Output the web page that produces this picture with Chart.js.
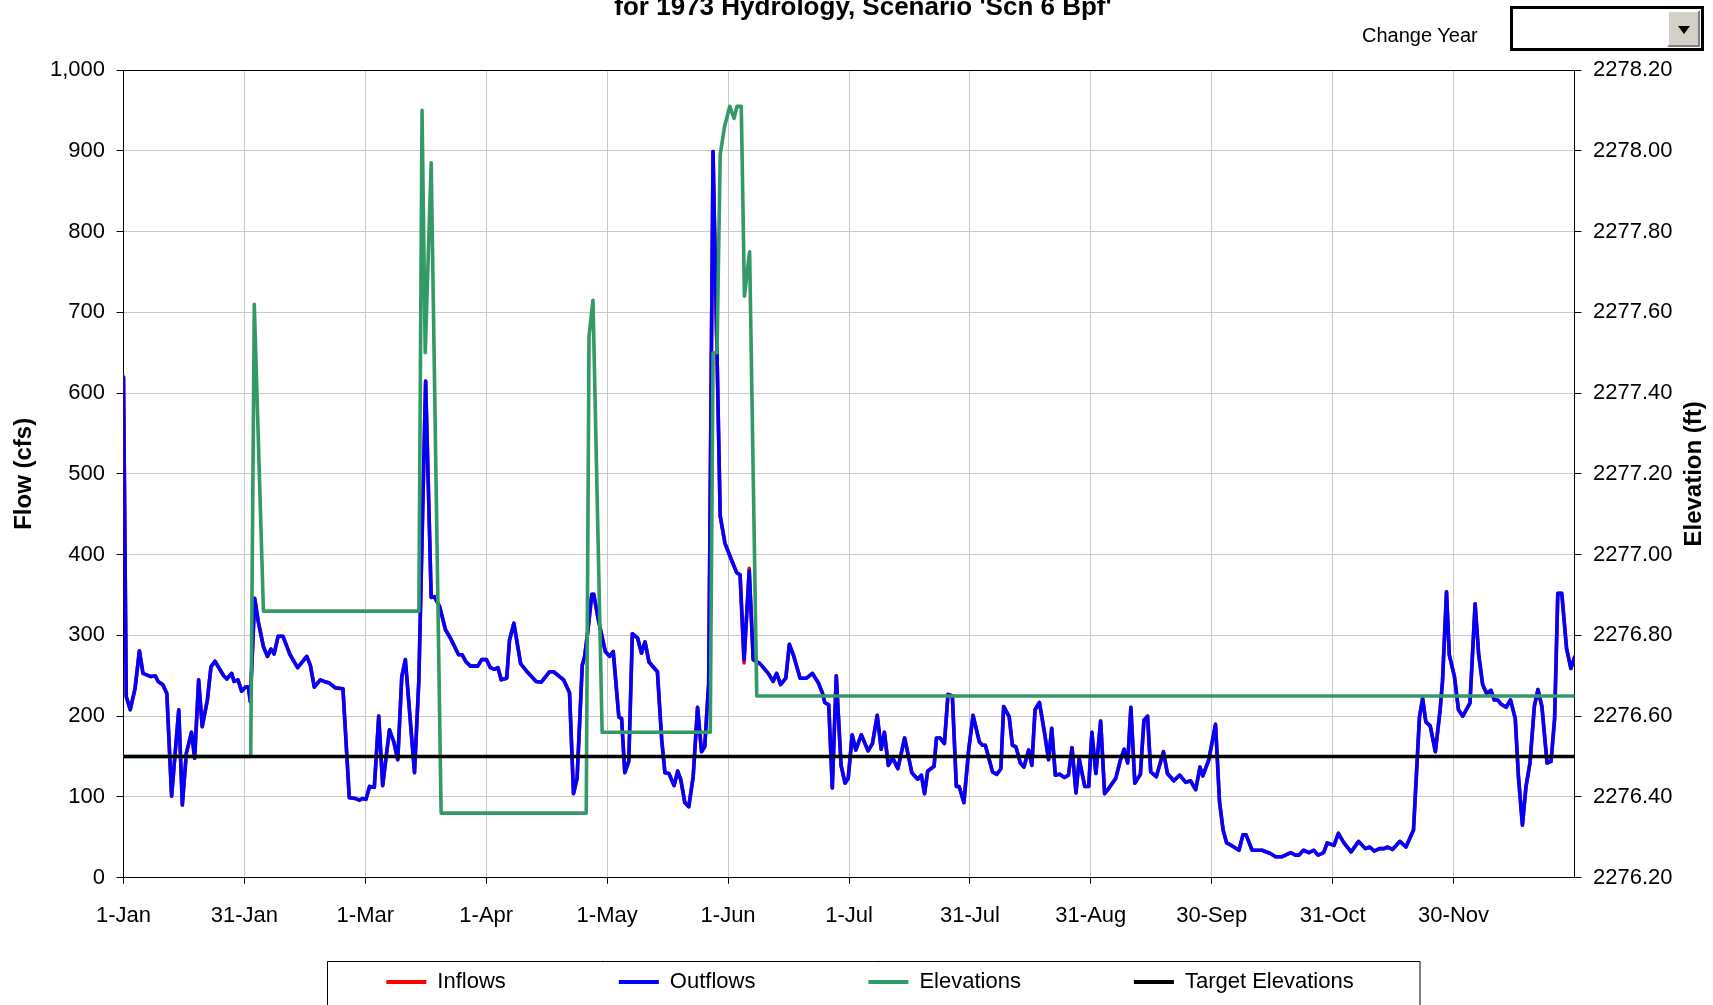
<!DOCTYPE html>
<html>
<head>
<meta charset="utf-8">
<script src="https://cdn.jsdelivr.net/npm/chart.js@4.4.0/dist/chart.umd.min.js"></script>
<style>
  html, body { margin: 0; padding: 0; background: #fff; }
  #wrap { position: relative; width: 1713px; height: 1005px; overflow: hidden; background: #fff; }
  #c { position: absolute; left: 0; top: 0; }
  #chg { position: absolute; left: 1362px; top: 22px; color: #000; line-height: 1; white-space: nowrap; }
  #dd { position: absolute; left: 1510px; top: 6px; width: 194px; height: 45px; box-sizing: border-box;
        border: 3px solid #000; background: #fff; }
  #btn { position: absolute; right: 1px; top: 1px; width: 33px; height: 37px; box-sizing: border-box;
         background: #d4d0c8; border-top: 2px solid #fff; border-left: 2px solid #fff;
         border-right: 2px solid #808080; border-bottom: 2px solid #808080; }
  #tri { position: absolute; left: 9px; top: 14px; width: 0; height: 0;
         border-left: 6px solid transparent; border-right: 6px solid transparent; border-top: 8px solid #000; }
</style>
</head>
<body>
<div id="wrap">
  <canvas id="c" width="1713" height="1005"></canvas>
  <div id="chg">Change Year</div>
  <div id="dd"><div id="btn"><div id="tri"></div></div></div>
</div>
<script>
// ---------------- DATA ----------------
const chartTitle = "for 1973 Hydrology, Scenario 'Scn 6 Bpf'";
const seriesNames = ['Inflows', 'Outflows', 'Elevations', 'Target Elevations'];
const xTickLabels = ['1-Jan','31-Jan','1-Mar','1-Apr','1-May','1-Jun','1-Jul','31-Jul','31-Aug','30-Sep','31-Oct','30-Nov'];
const yearDays = 365;

// day of year (0 = 1-Jan) for the flow readings
const flowDays = [
  0, 0.7, 1.7, 2.9, 4.0, 4.9, 6.9, 8.0, 8.7, 9.9,
  10.9, 12.1, 13.9, 14.8, 15.8, 17.1, 17.9, 18.9, 19.8, 21.1,
  22.0, 23.0, 25.2, 26.0, 27.2, 27.8, 28.8, 29.7, 30.7, 31.4,
  31.9, 33.0, 33.9, 35.2, 36.2, 37.1, 37.9, 38.9, 40.1, 41.9,
  43.8, 46.1, 47.0, 48.0, 49.5, 50.5, 51.8, 53.3, 55.2, 56.8,
  58.4, 59.3, 60.1, 61.0, 61.9, 63.1, 64.2, 65.2, 66.9, 68.0,
  69.0, 70.0, 70.9, 73.2, 74.3, 76.0, 77.4, 78.2, 79.5, 81.0,
  82.3, 84.3, 85.2, 86.2, 87.3, 89.1, 90.1, 91.3, 92.3, 93.3,
  94.2, 95.0, 96.4, 97.1, 98.2, 99.9, 101.7, 103.8, 105.1, 107.2,
  108.2, 110.7, 112.2, 113.2, 114.1, 115.4, 116.0, 116.8, 117.8, 118.3,
  119.3, 121.2, 122.3, 123.2, 124.6, 125.3, 126.1, 127.1, 128.0, 129.3,
  130.3, 131.2, 132.2, 134.3, 135.4, 136.2, 137.2, 138.5, 139.4, 140.2,
  141.2, 142.2, 143.3, 144.4, 145.4, 146.2, 147.2, 148.3, 149.3, 150.1,
  151.3, 152.9, 154.2, 155.1, 156.1, 157.4, 158.4, 160.1, 162.2, 163.4,
  164.3, 165.3, 166.6, 167.5, 168.5, 170.2, 171.8, 173.3, 174.8, 175.8,
  176.4, 177.4, 178.3, 179.3, 180.5, 181.5, 182.3, 183.3, 184.2, 185.6,
  187.3, 188.4, 189.6, 190.6, 191.4, 192.4, 193.5, 194.8, 196.5, 198.3,
  199.8, 200.7, 201.5, 202.3, 203.9, 204.5, 205.4, 206.5, 207.4, 208.5,
  209.5, 210.2, 211.4, 212.6, 213.7, 215.3, 216.1, 216.8, 218.6, 219.7,
  220.7, 221.4, 222.8, 223.6, 224.5, 225.6, 226.5, 227.7, 228.5, 229.3,
  230.4, 231.7, 232.7, 233.5, 234.4, 235.5, 236.7, 237.7, 238.6, 239.6,
  240.4, 241.8, 242.8, 243.6, 244.6, 245.8, 246.8, 247.6, 249.6, 250.8,
  251.7, 252.6, 253.4, 254.4, 255.8, 256.7, 257.6, 258.4, 259.8, 261.6,
  262.6, 264.2, 265.7, 267.2, 268.4, 269.7, 270.8, 271.5, 273.0, 274.7,
  275.7, 276.6, 277.5, 278.7, 280.6, 281.6, 282.4, 283.9, 286.4, 288.5,
  289.8, 291.5, 293.6, 294.8, 295.7, 296.8, 298.2, 299.4, 300.5, 301.9,
  302.8, 304.5, 305.6, 307.0, 308.8, 310.7, 312.4, 313.5, 314.6, 315.9,
  317.1, 318.0, 319.2, 321.1, 322.6, 324.5, 326.0, 326.8, 327.6, 328.7,
  330.0, 331.2, 331.8, 332.8, 333.5, 334.8, 335.8, 336.9, 338.7, 340.0,
  340.9, 341.9, 342.9, 344.0, 344.8, 345.7, 346.5, 347.8, 348.9, 350.1,
  350.9, 351.9, 352.8, 353.8, 354.9, 355.8, 356.8, 358.1, 359.1, 360.0,
  360.8, 361.8, 363.0, 364.1, 365.0
];

// Outflows (cfs)
const outflowCfs = [
  620, 224, 208, 234, 281, 253, 249, 250, 243, 239,
  228, 101, 208, 90, 154, 180, 148, 245, 187, 220,
  261, 268, 250, 246, 253, 243, 245, 231, 236, 236,
  218, 346, 317, 286, 274, 283, 277, 299, 299, 276,
  260, 274, 263, 236, 245, 243, 241, 235, 234, 99,
  98, 96, 98, 97, 113, 112, 200, 114, 183, 168,
  146, 249, 270, 130, 245, 615, 347, 348, 336, 307,
  296, 276, 276, 267, 262, 262, 270, 270, 260, 258,
  260, 245, 247, 294, 315, 265, 254, 243, 242, 255,
  255, 245, 229, 104, 123, 263, 274, 305, 351, 351,
  323, 280, 274, 280, 199, 197, 130, 144, 302, 297,
  278, 292, 267, 255, 170, 130, 129, 114, 132, 121,
  93, 88, 125, 211, 156, 162, 240, 899, 649, 448,
  414, 394, 378, 375, 270, 380, 270, 265, 253, 243,
  253, 239, 247, 289, 276, 247, 247, 253, 241, 229,
  217, 214, 111, 250, 139, 117, 123, 177, 158, 177,
  157, 166, 201, 159, 180, 139, 148, 135, 173, 130,
  122, 127, 104, 132, 138, 173, 173, 166, 227, 225,
  113, 113, 93, 158, 201, 168, 164, 164, 131, 128,
  135, 212, 199, 164, 162, 142, 137, 158, 139, 208,
  217, 179, 146, 185, 127, 128, 124, 127, 161, 105,
  147, 113, 113, 180, 129, 194, 104, 109, 123, 146,
  159, 142, 211, 117, 128, 195, 200, 131, 125, 156,
  129, 120, 127, 118, 120, 109, 137, 126, 146, 190,
  94, 59, 43, 40, 34, 53, 53, 34, 34, 30,
  26, 26, 31, 28, 28, 34, 31, 34, 28, 31,
  43, 40, 55, 43, 32, 45, 36, 38, 33, 36,
  36, 38, 35, 45, 38, 59, 199, 222, 193, 188,
  156, 208, 243, 354, 276, 249, 208, 200, 216, 339,
  276, 239, 228, 232, 220, 220, 215, 211, 220, 197,
  125, 65, 113, 142, 212, 233, 212, 142, 144, 197,
  352, 352, 284, 259, 273
];

// Inflows (cfs) - almost identical to outflows, visible only at a few tips
const inflowCfs = [
  620, 224, 208, 234, 281, 253, 249, 250, 243, 239,
  228, 101, 208, 90, 154, 180, 148, 245, 187, 220,
  261, 268, 250, 246, 253, 243, 245, 231, 236, 236,
  218, 346, 317, 286, 274, 283, 277, 299, 299, 276,
  260, 274, 263, 236, 245, 243, 241, 235, 234, 99,
  98, 96, 98, 97, 113, 112, 200, 114, 183, 168,
  146, 249, 270, 130, 245, 615, 347, 348, 336, 307,
  296, 276, 276, 267, 262, 262, 270, 270, 260, 258,
  260, 245, 247, 294, 315, 265, 254, 243, 242, 255,
  255, 245, 229, 104, 123, 263, 274, 305, 351, 351,
  323, 280, 274, 280, 199, 197, 130, 144, 302, 297,
  278, 292, 267, 255, 170, 130, 129, 114, 132, 121,
  93, 88, 125, 211, 156, 162, 240, 899, 649, 448,
  414, 394, 378, 375, 266, 383, 270, 265, 253, 243,
  253, 239, 247, 289, 276, 247, 247, 253, 241, 229,
  217, 214, 111, 250, 139, 117, 123, 177, 158, 177,
  157, 166, 201, 159, 180, 139, 148, 135, 173, 130,
  122, 127, 104, 132, 138, 173, 173, 166, 227, 225,
  113, 113, 93, 158, 201, 168, 164, 164, 131, 128,
  135, 212, 199, 164, 162, 142, 137, 158, 139, 208,
  217, 179, 146, 185, 127, 128, 124, 127, 161, 105,
  147, 113, 113, 180, 129, 194, 104, 109, 123, 146,
  159, 142, 211, 117, 128, 195, 200, 131, 125, 156,
  129, 120, 127, 118, 120, 109, 137, 126, 146, 190,
  94, 59, 43, 40, 34, 53, 53, 34, 34, 30,
  26, 26, 31, 28, 28, 34, 31, 34, 28, 31,
  43, 40, 55, 43, 32, 45, 36, 38, 33, 36,
  36, 38, 35, 45, 38, 59, 199, 222, 193, 188,
  156, 208, 243, 354, 276, 249, 208, 200, 216, 339,
  276, 239, 228, 232, 220, 220, 215, 211, 220, 197,
  125, 65, 113, 142, 212, 233, 212, 142, 144, 197,
  352, 352, 284, 259, 273
];

// Reservoir elevations (ft)
const elevDays = [0, 32.0, 32.9, 35.2, 74.3, 75.1, 75.9, 77.4, 79.9, 116.4, 117.1, 118.1, 120.4,
  147.6, 148.3, 149.3, 150.1, 151.2, 152.5, 153.6, 154.3, 155.4, 156.2, 157.5, 159.3, 365];
const elevFt = [2276.50, 2276.50, 2277.62, 2276.86, 2276.86, 2278.10, 2277.50, 2277.97, 2276.36, 2276.36, 2277.54, 2277.63, 2276.56,
  2276.56, 2277.50, 2277.50, 2277.99, 2278.06, 2278.11, 2278.08, 2278.11, 2278.11, 2277.64, 2277.75, 2276.65, 2276.65];

// Target elevation (ft)
const targetDays = [0, 365];
const targetFt = [2276.50, 2276.50];

// ---------------- FONTS ----------------
function fontAvailable(name) {
  const ctx = document.createElement('canvas').getContext('2d');
  const s = 'Target Elevations 2278.20 Wy';
  ctx.font = '40px monospace';
  const a = ctx.measureText(s).width;
  ctx.font = '40px "' + name + '", monospace';
  const b = ctx.measureText(s).width;
  return Math.abs(a - b) > 0.5;
}
const hasNarrow = fontAvailable('Liberation Sans Narrow');
const NARROW = hasNarrow ? '"Liberation Sans Narrow", "Liberation Sans", Arial, sans-serif'
                         : '"Liberation Sans", Arial, sans-serif';
const REG = '"Liberation Sans", Arial, sans-serif';
const tickSize = hasNarrow ? 27 : 22;
const legendSize = hasNarrow ? 27 : 22;
const titleSize = hasNarrow ? 31 : 26;
const changeSize = hasNarrow ? 24 : 20;

const chg = document.getElementById('chg');
chg.style.fontFamily = NARROW;
chg.style.fontSize = changeSize + 'px';
chg.style.top = (35 - changeSize / 2) + 'px';

// ---------------- CHART ----------------
Chart.defaults.font.family = NARROW;
Chart.defaults.color = '#000';

const GRID = '#c8c8c8';
const PLOT_TOP = 70, PLOT_BOTTOM = 877.7, PLOT_LEFT = 123.5, PLOT_RIGHT = 1574.5;
const X_AXIS_H = 54;
const TITLE_CENTER_Y = 7.8;
const LEGEND_PAD = 113;
const LEGEND_CENTER_X = 870, LEGEND_TEXT_Y = 982;

const toXY = (xs, ys) => xs.map((x, i) => ({ x: x, y: ys[i] }));

const framePlugin = {
  id: 'frame',
  beforeDraw(chart) {
    const lg = chart.legend;
    if (lg) {
      const w = lg.right - lg.left;
      lg.left = LEGEND_CENTER_X - w / 2;
      lg.right = LEGEND_CENTER_X + w / 2;
      lg.top = LEGEND_TEXT_Y - legendSize / 2 - LEGEND_PAD;
      lg.bottom = chart.height;
    }
    const tb = chart.titleBlock;
    if (tb) { tb.left = 6.5; tb.right = chart.width + 6.5; }
  },
  afterDraw(chart) {
    const ctx = chart.ctx, ca = chart.chartArea;
    ctx.save();
    // plot-area top edge
    ctx.strokeStyle = '#000';
    ctx.lineWidth = 1;
    ctx.beginPath();
    ctx.moveTo(ca.left, Math.round(ca.top) + 0.5);
    ctx.lineTo(ca.right, Math.round(ca.top) + 0.5);
    ctx.stroke();
    // legend frame
    ctx.beginPath();
    ctx.rect(327.5, 961.5, 1092.5, 80);
    ctx.stroke();
    // right axis title (reads bottom-to-top)
    const y2 = chart.scales.y2;
    ctx.translate(y2.right - 19, (ca.top + ca.bottom) / 2);
    ctx.rotate(-Math.PI / 2);
    ctx.font = 'bold 24px ' + REG;
    ctx.fillStyle = '#000';
    ctx.textAlign = 'center';
    ctx.textBaseline = 'middle';
    ctx.fillText('Elevation (ft)', 0, 0);
    ctx.restore();
  }
};

new Chart(document.getElementById('c'), {
  type: 'line',
  data: {
    datasets: [
      { label: seriesNames[0], data: toXY(flowDays, inflowCfs), yAxisID: 'y', order: 4,
        borderColor: '#ff0000', backgroundColor: '#ff0000', borderWidth: 3.6 },
      { label: seriesNames[1], data: toXY(flowDays, outflowCfs), yAxisID: 'y', order: 3,
        borderColor: '#0000ff', backgroundColor: '#0000ff', borderWidth: 3.6 },
      { label: seriesNames[2], data: toXY(elevDays, elevFt), yAxisID: 'y2', order: 2,
        borderColor: '#339966', backgroundColor: '#339966', borderWidth: 3.6 },
      { label: seriesNames[3], data: toXY(targetDays, targetFt), yAxisID: 'y2', order: 1,
        borderColor: '#000000', backgroundColor: '#000000', borderWidth: 3.6 }
    ]
  },
  options: {
    responsive: false,
    animation: false,
    devicePixelRatio: 1,
    events: [],
    elements: {
      point: { radius: 0, hoverRadius: 0 },
      line: { tension: 0, borderJoinStyle: 'round', borderCapStyle: 'round', fill: false }
    },
    layout: { padding: 0 },
    plugins: {
      tooltip: { enabled: false },
      title: {
        display: true,
        text: chartTitle,
        color: '#000',
        font: { family: NARROW, size: titleSize, weight: 'bold', lineHeight: 1 },
        padding: { top: TITLE_CENTER_Y - titleSize / 2, bottom: PLOT_TOP - titleSize - (TITLE_CENTER_Y - titleSize / 2) }
      },
      legend: {
        display: true,
        position: 'bottom',
        maxHeight: 1005 - PLOT_BOTTOM - X_AXIS_H,
        labels: {
          color: '#000',
          font: { family: NARROW, size: legendSize },
          boxWidth: 40,
          boxHeight: 4,
          padding: LEGEND_PAD,
          sort: (a, b) => a.datasetIndex - b.datasetIndex,
          generateLabels(chart) {
            return Chart.defaults.plugins.legend.labels.generateLabels(chart)
              .map(it => Object.assign({}, it, { lineWidth: 0, fillStyle: it.strokeStyle }));
          }
        }
      }
    },
    scales: {
      x: {
        type: 'linear',
        min: 0,
        max: yearDays,
        afterBuildTicks(scale) {
          scale.ticks = xTickLabels.map((_, i) => ({ value: i * yearDays / xTickLabels.length }));
        },
        afterFit(scale) { scale.height = X_AXIS_H; },
        ticks: {
          autoSkip: false,
          maxRotation: 0,
          font: { size: tickSize },
          padding: 915.5 - PLOT_BOTTOM - 6 - tickSize * 0.6,
          callback: (v, i) => xTickLabels[i]
        },
        grid: { color: GRID, lineWidth: 1, tickColor: '#000', tickLength: 6, drawTicks: true },
        border: { color: '#000', width: 1 }
      },
      y: {
        position: 'left',
        min: 0,
        max: 1000,
        afterFit(scale) { scale.width = PLOT_LEFT; },
        ticks: {
          stepSize: 100,
          font: { size: tickSize },
          padding: 11.5,
          callback: v => Number(v).toLocaleString('en-US')
        },
        grid: { color: GRID, lineWidth: 1, tickColor: '#000', tickLength: 7 },
        border: { color: '#000', width: 1 },
        title: {
          display: true,
          text: 'Flow (cfs)',
          color: '#000',
          font: { family: REG, size: 24, weight: 'bold', lineHeight: 1.2 },
          padding: { top: 10, bottom: 0 }
        }
      },
      y2: {
        position: 'right',
        min: 2276.2,
        max: 2278.2,
        afterFit(scale) { scale.width = 1713 - PLOT_RIGHT; },
        ticks: {
          stepSize: 0.2,
          font: { size: tickSize },
          padding: 11.5,
          callback: v => Number(v).toFixed(2)
        },
        grid: { drawOnChartArea: false, tickColor: '#000', tickLength: 7 },
        border: { color: '#000', width: 1 }
      }
    }
  },
  plugins: [framePlugin]
});
</script>
</body>
</html>
